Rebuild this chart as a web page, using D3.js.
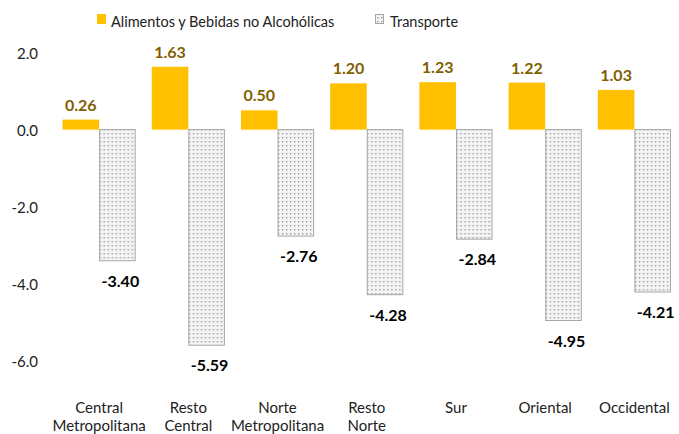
<!DOCTYPE html>
<html>
<head>
<meta charset="utf-8" />
<title>Alimentos y Transporte por región</title>
<script src="https://cdn.jsdelivr.net/npm/d3@7"></script>
<style>
  body { margin: 0; background: #fff; }
  svg text { font-family: Lato, "Open Sans", sans-serif; }
</style>
</head>
<body>
<div id="chart"></div>
<script>
// data
const categories = [
  ['Central', 'Metropolitana'],
  ['Resto', 'Central'],
  ['Norte', 'Metropolitana'],
  ['Resto', 'Norte'],
  ['Sur'],
  ['Oriental'],
  ['Occidental']
];
const alimentos = [0.26, 1.63, 0.50, 1.20, 1.23, 1.22, 1.03];
const transporte = [-3.40, -5.59, -2.76, -4.28, -2.84, -4.95, -4.21];
const yTicks = [2.0, 0.0, -2.0, -4.0, -6.0];
const seriesNames = ['Alimentos y Bebidas no Alcohólicas', 'Transporte'];

const width = 679;
const height = 434;

const svg = d3.select('#chart')
  .append('svg')
  .attr('width', width)
  .attr('height', height);

// dotted pattern for Transporte
const pat = svg.append('defs').append('pattern')
  .attr('id', 'dots')
  .attr('patternUnits', 'userSpaceOnUse')
  .attr('width', 4)
  .attr('height', 4);
pat.append('rect').attr('width', 4).attr('height', 4).attr('fill', '#f4f4f4');
pat.append('rect').attr('x', 1).attr('y', 1).attr('width', 1.4).attr('height', 1.4).attr('fill', '#9a9a9a');

// scales
const x = d3.scaleBand()
  .domain(d3.range(categories.length))
  .range([54.5, 679])
  .paddingInner(0.18)
  .paddingOuter(0.09);

const xs = d3.scaleBand()
  .domain([0, 1])
  .range([0, x.bandwidth()]);

const y = d3.scaleLinear()
  .domain([-6, 2])
  .range([361, 52.5]);

// y axis labels (no axis line in the original)
svg.append('g')
  .selectAll('text')
  .data(yTicks)
  .enter()
  .append('text')
  .attr('x', 38)
  .attr('y', d => y(d) + 1)
  .attr('dy', '0.35em')
  .attr('text-anchor', 'end')
  .style('font-size', '15px')
  .attr('fill', '#222')
  .text(d => d.toFixed(1));

const groups = svg.append('g')
  .selectAll('g')
  .data(categories)
  .enter()
  .append('g')
  .attr('transform', (d, i) => `translate(${x(i)},0)`);

// Alimentos bars
groups.append('rect')
  .attr('x', xs(0))
  .attr('width', xs.bandwidth())
  .attr('y', (d, i) => y(alimentos[i]))
  .attr('height', (d, i) => y(0) - y(alimentos[i]))
  .attr('fill', '#ffc000');

// Transporte bars
groups.append('rect')
  .attr('x', xs(1) + 0.5)
  .attr('width', xs.bandwidth() - 1)
  .attr('y', y(0))
  .attr('height', (d, i) => y(transporte[i]) - y(0))
  .attr('fill', 'url(#dots)')
  .attr('stroke', '#a6a6a6')
  .attr('stroke-width', 1);

// value labels
groups.append('text')
  .attr('x', xs(0) + xs.bandwidth() / 2)
  .attr('y', (d, i) => y(alimentos[i]) - 9)
  .attr('text-anchor', 'middle')
  .style('font-size', '16px')
  .style('font-weight', 'bold')
  .attr('fill', '#7f6000')
  .text((d, i) => alimentos[i].toFixed(2));

groups.append('text')
  .attr('x', xs(1) + xs.bandwidth() / 2 + 3)
  .attr('y', (d, i) => y(transporte[i]) + 26)
  .attr('text-anchor', 'middle')
  .style('font-size', '16px')
  .style('font-weight', 'bold')
  .attr('fill', '#000')
  .text((d, i) => transporte[i].toFixed(2));

// category labels
const catText = groups.append('text')
  .attr('text-anchor', 'middle')
  .style('font-size', '15px')
  .attr('fill', '#222');

catText.selectAll('tspan')
  .data(d => d)
  .enter()
  .append('tspan')
  .attr('x', x.bandwidth() / 2)
  .attr('y', (d, j) => 413 + j * 18)
  .text(d => d);

// legend
const legend = svg.append('g');
legend.append('rect')
  .attr('x', 97).attr('y', 14).attr('width', 9).attr('height', 10)
  .attr('fill', '#ffc000');
legend.append('text')
  .attr('x', 111).attr('y', 26.5)
  .style('font-size', '14.5px')
  .attr('fill', '#222')
  .text(seriesNames[0]);
legend.append('rect')
  .attr('x', 375.5).attr('y', 14.5).attr('width', 8).attr('height', 9)
  .attr('fill', 'url(#dots)')
  .attr('stroke', '#a6a6a6');
legend.append('text')
  .attr('x', 390).attr('y', 26.5)
  .style('font-size', '14.5px')
  .attr('fill', '#222')
  .text(seriesNames[1]);
</script>
</body>
</html>
